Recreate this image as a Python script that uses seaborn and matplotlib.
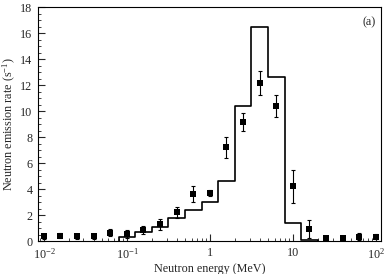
import numpy as np
import pandas as pd
import matplotlib
matplotlib.use("Agg")
import matplotlib.pyplot as plt
import matplotlib.ticker as mticker
import seaborn as sns

# measured points
energy = [0.01, 0.0158, 0.0251, 0.0398, 0.0631, 0.1, 0.158, 0.251, 0.398, 0.631,
          1.0, 1.58, 2.51, 3.98, 6.31, 10.0, 15.8, 25.1, 39.8, 63.1, 100.0]
rate = [0.35, 0.4, 0.35, 0.35, 0.65, 0.55, 0.85, 1.28, 2.2, 3.6,
        3.7, 7.2, 9.15, 12.15, 10.4, 4.2, 0.92, 0.25, 0.25, 0.33, 0.33]
rate_err = [0.2, 0.2, 0.2, 0.2, 0.3, 0.3, 0.3, 0.4, 0.4, 0.6,
            0.25, 0.8, 0.7, 0.9, 0.85, 1.3, 0.7, 0.15, 0.15, 0.25, 0.2]

# calculated histogram (bin edges and levels)
bin_edges = [0.0794, 0.126, 0.2, 0.316, 0.501, 0.794, 1.26, 2.0, 3.16, 5.01, 7.94, 12.6, 20.0]
bin_levels = [0.33, 0.7, 1.1, 1.8, 2.4, 3.0, 4.6, 10.4, 16.5, 12.6, 1.35, 0.08]

xtick_vals = [0.01, 0.1, 1, 10, 100]
xtick_labels = [r"$10^{-2}$", r"$10^{-1}$", "1", "10", r"$10^{2}$"]

sns.set_style("ticks")
plt.rcParams["font.family"] = ["Liberation Serif", "DejaVu Serif"]
plt.rcParams["mathtext.fontset"] = "custom"
plt.rcParams["mathtext.rm"] = "Liberation Serif"
plt.rcParams["mathtext.it"] = "Liberation Serif:italic"
plt.rcParams["mathtext.bf"] = "Liberation Serif:bold"

fig = plt.figure(figsize=(3.88, 2.74), dpi=100)
ax = fig.add_axes([0.098, 0.1204, 0.884, 0.854])

step_x = [bin_edges[0]] + bin_edges
step_y = [0.0] + bin_levels + [0.0]
hist_df = pd.DataFrame({"x": step_x, "y": step_y})
sns.lineplot(data=hist_df, x="x", y="y", drawstyle="steps-post", estimator=None,
             sort=False, color="black", linewidth=1.2, ax=ax)

pts = pd.DataFrame({"x": energy, "y": rate, "err": rate_err})
ax.errorbar(pts["x"], pts["y"], yerr=pts["err"], fmt="none", ecolor="black",
            elinewidth=0.8, capsize=1.5, capthick=0.8, zorder=3)
sns.scatterplot(data=pts, x="x", y="y", marker="s", s=22, color="black",
                edgecolor="black", linewidth=0, ax=ax, zorder=4)

ax.set_xscale("log")
ax.set_xlim(0.0085, 115)
ax.set_ylim(0, 18)
ax.set_xticks(xtick_vals)
ax.set_xticklabels(xtick_labels)
ax.xaxis.set_minor_locator(mticker.LogLocator(base=10, subs=np.arange(2, 10)))
ax.xaxis.set_minor_formatter(mticker.NullFormatter())
ax.set_yticks(np.arange(0, 19, 2))
ax.yaxis.set_minor_locator(mticker.MultipleLocator(0.5))

ax.tick_params(which="major", direction="in", length=5, width=0.8, labelsize=8.7,
               top=False, right=False, pad=4)
ax.tick_params(which="minor", direction="in", length=2.5, width=0.6, top=False, right=False)
for sp in ax.spines.values():
    sp.set_visible(True)
    sp.set_linewidth(0.8)
    sp.set_color("black")

ax.set_xlabel("Neutron energy (MeV)", fontsize=8.7, labelpad=1)
ax.set_ylabel(r"Neutron emission rate (s$^{\mathregular{-1}}$)", fontsize=8.7, labelpad=1.5)
ax.text(0.985, 0.935, "(a)", transform=ax.transAxes, ha="right", va="center", fontsize=8.7)

fig.savefig("out.png", dpi=100)
